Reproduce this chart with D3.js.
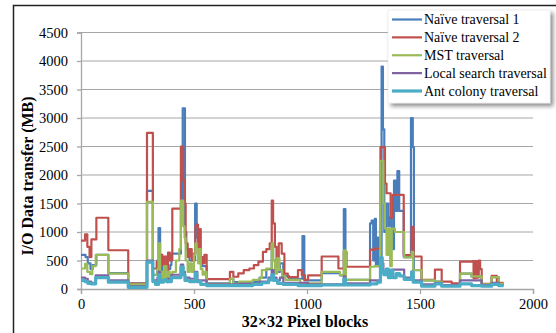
<!DOCTYPE html>
<html>
<head>
<meta charset="utf-8">
<script src="https://cdn.jsdelivr.net/npm/d3@7"></script>
<style>
  body { margin: 0; background: #fff; }
  svg { display: block; }
  text { font-family: "Liberation Serif", "Times New Roman", serif; fill: #000; }
</style>
</head>
<body>
<div id="chart"></div>
<script>
// values, [block, MB], each value holds until the next block
var naive1 = [[0,600],[20,560],[30,450],[42,350],[52,420],[68,600],[121,280],[209,100],[292,1720],[318,250],[338,500],[343,1070],[350,600],[358,300],[372,350],[395,420],[400,620],[442,1500],[450,3170],[460,1000],[466,700],[480,500],[505,1500],[512,900],[520,500],[535,400],[556,100],[659,180],[674,120],[790,200],[820,350],[844,700],[850,500],[860,300],[880,450],[895,230],[920,180],[980,930],[988,150],[1065,280],[1146,240],[1163,1400],[1170,160],[1279,1150],[1286,1200],[1293,500],[1300,1230],[1305,400],[1310,900],[1316,400],[1330,3900],[1336,2800],[1342,1000],[1350,1500],[1360,1100],[1365,1250],[1375,700],[1385,1900],[1392,1370],[1400,2070],[1408,1370],[1428,560],[1460,3000],[1468,2490],[1473,330],[1507,150],[1566,130],[1596,70],[1677,270],[1728,220],[1773,80],[1817,210],[1848,90],[1870,90]];

var naive2 = [[0,850],[18,960],[28,740],[38,560],[46,870],[68,1250],[121,680],[209,95],[292,2740],[318,360],[335,480],[342,330],[350,600],[360,420],[368,570],[378,270],[385,640],[393,500],[404,1410],[442,2500],[452,1900],[458,1500],[463,800],[472,560],[480,700],[490,500],[500,620],[506,1100],[512,1130],[518,700],[524,1050],[530,560],[538,450],[546,600],[556,175],[659,300],[674,215],[696,275],[720,330],[745,360],[765,420],[785,480],[805,650],[820,700],[835,800],[844,1550],[850,1150],[858,740],[865,400],[875,800],[888,620],[900,270],[915,210],[960,330],[977,245],[991,160],[1005,240],[1065,570],[1139,360],[1163,650],[1175,390],[1279,690],[1300,710],[1325,2490],[1345,1850],[1352,1680],[1370,1250],[1380,1650],[1428,595],[1463,1090],[1472,570],[1507,160],[1566,340],[1596,130],[1640,100],[1677,480],[1733,490],[1737,190],[1746,490],[1752,200],[1760,500],[1766,350],[1773,90],[1817,230],[1840,110],[1870,110]];

var mst = [[0,360],[18,440],[28,300],[40,260],[50,400],[65,600],[121,270],[209,80],[292,1530],[318,250],[338,350],[343,800],[350,300],[360,150],[368,400],[378,120],[385,300],[393,200],[404,300],[420,500],[435,700],[442,1550],[452,1100],[458,900],[463,500],[472,300],[480,450],[490,300],[500,600],[506,800],[512,700],[518,450],[524,700],[530,350],[538,250],[546,300],[556,90],[659,180],[674,90],[700,130],[760,160],[790,190],[800,330],[820,360],[844,800],[850,500],[858,270],[868,540],[878,330],[890,220],[905,160],[950,160],[970,100],[1005,100],[1065,300],[1146,245],[1163,680],[1172,160],[1279,390],[1300,400],[1325,2250],[1338,1500],[1345,1060],[1352,600],[1360,1060],[1368,400],[1375,1060],[1389,1000],[1430,555],[1463,650],[1470,333],[1507,150],[1566,130],[1596,70],[1677,270],[1728,220],[1773,80],[1817,210],[1848,90],[1870,90]];

var localSearch = [[0,200],[18,180],[30,130],[45,110],[65,240],[121,150],[209,50],[292,500],[318,150],[338,200],[343,300],[350,150],[380,180],[400,250],[442,430],[452,300],[460,200],[480,180],[505,300],[515,150],[556,80],[700,90],[790,130],[830,200],[844,330],[852,200],[865,150],[880,200],[895,110],[1005,80],[1163,220],[1170,100],[1279,150],[1325,450],[1338,300],[1380,340],[1430,200],[1463,300],[1470,150],[1507,80],[1566,110],[1596,70],[1677,150],[1773,70],[1817,110],[1848,70],[1870,70]];

var antColony = [[0,150],[18,130],[30,100],[45,90],[65,200],[121,120],[209,30],[292,470],[318,130],[330,80],[343,250],[350,120],[365,160],[380,130],[400,200],[442,390],[452,250],[460,150],[480,130],[505,280],[512,130],[530,80],[556,60],[700,60],[760,80],[800,110],[830,160],[844,250],[852,150],[870,100],[895,80],[960,60],[1065,70],[1163,180],[1170,70],[1279,90],[1310,120],[1325,550],[1333,300],[1340,250],[1350,350],[1360,200],[1370,330],[1380,200],[1395,270],[1410,230],[1430,170],[1463,300],[1470,120],[1507,50],[1566,90],[1596,50],[1677,90],[1728,60],[1773,50],[1817,80],[1848,60],[1870,60]];

var seriesNames = ["Naïve traversal 1", "Naïve traversal 2", "MST traversal", "Local search traversal", "Ant colony traversal"];
var seriesColors = ["#4a7ebb", "#c0504d", "#9bbb59", "#8064a2", "#4bacc6"];
var xTicks = [0, 500, 1000, 1500, 2000];
var yTicks = [0, 500, 1000, 1500, 2000, 2500, 3000, 3500, 4000, 4500];

var width = 556, height = 333;
var series = [naive1, naive2, mst, localSearch, antColony];
var serif = "'Liberation Serif', 'Times New Roman', serif";

var svg = d3.select("#chart").append("svg")
    .attr("width", width)
    .attr("height", height);

var defs = svg.append("defs");
var shadow = defs.append("filter").attr("id", "shadow")
    .attr("x", "-10%").attr("y", "-10%").attr("width", "130%").attr("height", "130%");
shadow.append("feDropShadow")
    .attr("dx", 3).attr("dy", 3).attr("stdDeviation", 2)
    .attr("flood-color", "#000").attr("flood-opacity", 0.45);

// outer frame, runs off the right and bottom edges
svg.append("rect")
    .attr("x", 13.5).attr("y", 5.5)
    .attr("width", 700).attr("height", 500)
    .attr("fill", "none").attr("stroke", "#222").attr("stroke-width", 1.5);

var x = d3.scaleLinear().domain([0, 2000]).range([81, 533]);
var y = d3.scaleLinear().domain([0, 4500]).range([289, 32.5]);

// gridlines
svg.append("g").selectAll("line")
  .data(yTicks.slice(1))
  .enter().append("line")
    .attr("x1", x(0)).attr("x2", x(2000))
    .attr("y1", function(d) { return y(d); })
    .attr("y2", function(d) { return y(d); })
    .attr("stroke", "#a6a6a6").attr("stroke-width", 1);

var yAxis = svg.append("g")
    .attr("transform", "translate(" + x(0) + ",0)")
    .call(d3.axisLeft(y).tickValues(yTicks).tickFormat(d3.format("d")).tickSize(4).tickPadding(9));

var xAxis = svg.append("g")
    .attr("transform", "translate(0," + y(0) + ")")
    .call(d3.axisBottom(x).tickValues(xTicks).tickFormat(d3.format("d")).tickSize(5).tickPadding(5));

[xAxis, yAxis].forEach(function(a) {
  a.attr("font-family", serif);
  a.select(".domain").attr("stroke", "#a6a6a6").attr("stroke-width", 1.3);
  a.selectAll(".tick line").attr("stroke", "#a6a6a6").attr("stroke-width", 1.3);
  a.selectAll("text").attr("font-size", "14.5px").attr("fill", "#000");
});

var line = d3.line()
    .curve(d3.curveStepAfter)
    .x(function(d) { return x(d[0]); })
    .y(function(d) { return y(d[1]); });

svg.append("g").selectAll("path")
  .data(series)
  .enter().append("path")
    .attr("d", line)
    .attr("fill", "none")
    .attr("stroke", function(d, i) { return seriesColors[i]; })
    .attr("stroke-width", function(d, i) { return i == 4 ? 3.2 : 2.2; })
    .attr("stroke-linejoin", "round");

// axis titles
svg.append("text")
    .attr("x", 305).attr("y", 327)
    .attr("text-anchor", "middle")
    .attr("font-size", "16px").attr("font-weight", "bold")
    .text("32×32 Pixel blocks");

svg.append("text")
    .attr("transform", "translate(33,176)rotate(-90)")
    .attr("text-anchor", "middle")
    .attr("font-size", "16px").attr("font-weight", "bold")
    .text("I/O Data transfer (MB)");

// legend
var legend = svg.append("g");
legend.append("rect")
    .attr("x", 388).attr("y", 10)
    .attr("width", 162).attr("height", 93)
    .attr("fill", "#fff")
    .attr("stroke", "#e0e0e0").attr("stroke-width", 0.5)
    .attr("filter", "url(#shadow)");

var rowY = d3.scaleLinear().domain([0, 4]).range([19.5, 91]);
var item = legend.selectAll(".item")
  .data(seriesNames)
  .enter().append("g")
    .attr("class", "item")
    .attr("transform", function(d, i) { return "translate(0," + rowY(i) + ")"; });

item.append("line")
    .attr("x1", 392).attr("x2", 422)
    .attr("stroke", function(d, i) { return seriesColors[i]; })
    .attr("stroke-width", function(d, i) { return i == 4 ? 3.2 : 2.2; });

item.append("text")
    .attr("x", 424).attr("dy", "0.33em")
    .attr("font-size", "14px")
    .text(function(d) { return d; });
</script>
</body>
</html>
